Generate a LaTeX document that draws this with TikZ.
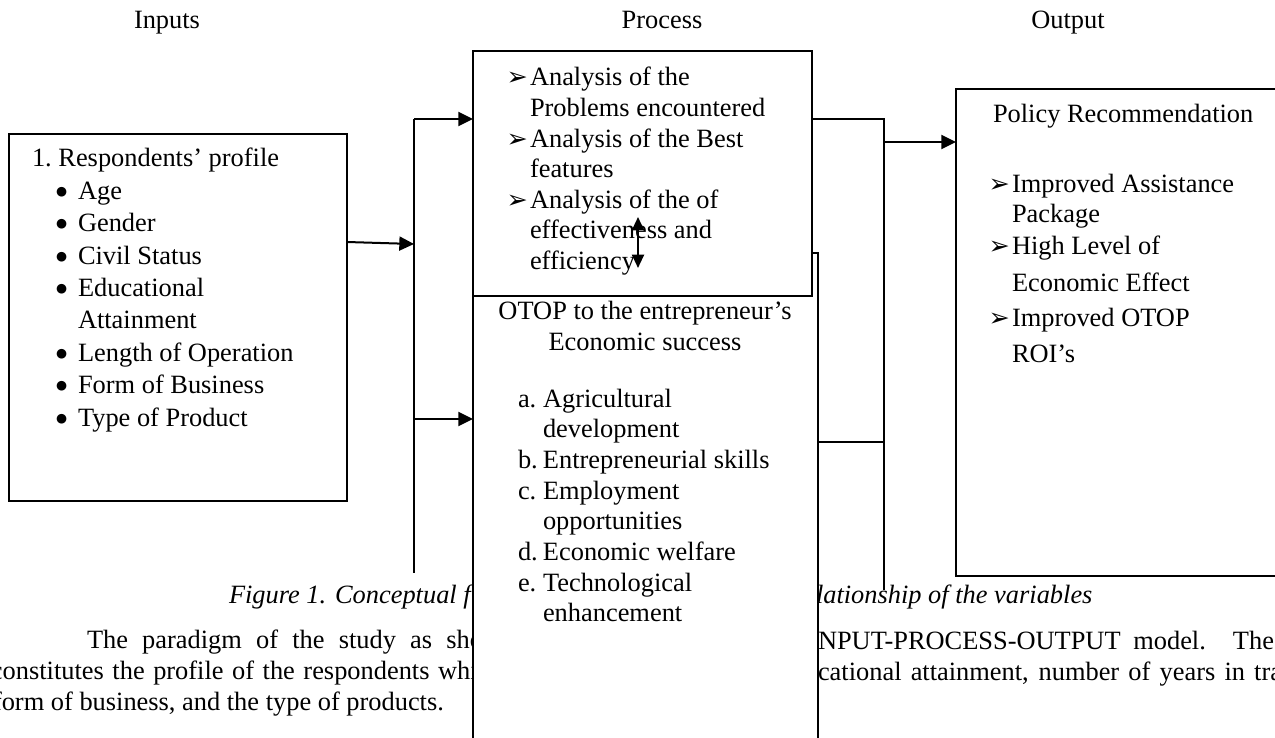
\documentclass[tikz,border=0pt]{standalone}
\usepackage{fontspec}
\setmainfont{Liberation Serif}
\newfontfamily\dvsans{DejaVu Sans}
\usetikzlibrary{arrows.meta}

% list markers
\newcommand\arrowmark{\makebox[16.5pt][l]{\hspace*{-1pt}\dvsans\fontsize{19}{19}\selectfont ➢}}
\newcommand\arrowgap{\hspace*{16.5pt}}
\newcommand\dotmark{\hspace*{18pt}\makebox[16.5pt][l]{\raisebox{3pt}{\dvsans\fontsize{9.5}{9.5}\selectfont ●}}}
\newcommand\dotgap{\hspace*{34.5pt}}
\newcommand\lettermark[1]{\makebox[18.75pt][l]{#1}}
\newcommand\lettergap{\hspace*{18.75pt}}

\tikzset{
  box/.style={draw, rectangle, line width=1.2pt, fill=white, inner sep=0pt, outer sep=0pt},
  link/.style={line width=1pt},
  arr/.style={line width=1.5pt, -{Triangle[length=11pt,width=10.5pt]}},
  dbl/.style={line width=1.5pt, {Triangle[length=10pt,width=9pt]}-{Triangle[length=10pt,width=9pt]}},
  txt/.style={inner sep=0pt, outer sep=0pt, anchor=base west},
  body/.style={txt, font=\fontsize{19.8}{23}\selectfont},
}

\begin{document}
\begin{tikzpicture}[x=0.75pt, y=-0.75pt]
\useasboundingbox (0,0) rectangle (1275,738);
\clip (0,0) rectangle (1275,738);

% column headings
\node[inner sep=0pt, anchor=base, font=\fontsize{19.8}{23}\selectfont] (hin) at (167,29) {Inputs};
\node[inner sep=0pt, anchor=base, font=\fontsize{19.8}{23}\selectfont] (hpr) at (662,29) {Process};
\node[inner sep=0pt, anchor=base, font=\fontsize{19.8}{23}\selectfont] (hout) at (1068,29) {Output};

% caption and running text of the page
\node[body, font=\itshape\fontsize{19.8}{23}\selectfont] (capL) at (229,603) {Figure 1. Conceptual f};
\node[body, font=\itshape\fontsize{19.8}{23}\selectfont] (capR) at (816,603) {lationship of the variables};
\node[body] (p1L) at (87,648) {\makebox[297pt][s]{The paradigm of the study as sho}};
\node[body] (p1R) at (818,649) {\makebox[342pt][s]{NPUT-PROCESS-OUTPUT model. The}};
\node[body] (p2L) at (-9,679) {\makebox[365pt][s]{constitutes the profile of the respondents whi}};
\node[body] (p2R) at (818,680) {\makebox[348pt][s]{cational attainment, number of years in tra}};
\node[body] (p3L) at (-7,710) {form of business, and the type of products.};

% input box
\node[box, minimum width=253.5pt, minimum height=275.25pt] (inbox) at (178,317.5) {};
\node[txt, font=\fontsize{19.8}{24.3}\selectfont] (intext) at (32,167) {%
\begin{tabular}[t]{@{}l@{}}
1.\ Respondents’ profile\\
\dotmark Age\\
\dotmark Gender\\
\dotmark Civil Status\\
\dotmark Educational\\
\dotgap Attainment\\
\dotmark Length of Operation\\
\dotmark Form of Business\\
\dotmark Type of Product
\end{tabular}};

% process boxes
\node[box, minimum width=258.75pt, minimum height=380.25pt] (plow) at (645.5,506.5) {};
\node[box, minimum width=254.25pt, minimum height=183.75pt] (ptop) at (642.5,173.5) {};

\node[txt, font=\fontsize{19.8}{22.9}\selectfont] (ptoptext) at (508,86) {%
\begin{tabular}[t]{@{}l@{}}
\arrowmark Analysis of the\\
\arrowgap Problems encountered\\
\arrowmark Analysis of the Best\\
\arrowgap features\\
\arrowmark Analysis of the of\\
\arrowgap effectiveness and\\
\arrowgap efficiency
\end{tabular}};

\node[inner sep=0pt, outer sep=0pt, anchor=base, font=\fontsize{19.8}{23.25}\selectfont] (plowhead) at (645,319) {%
\begin{tabular}[t]{@{}c@{}}
OTOP to the entrepreneur’s\\
Economic success
\end{tabular}};

\node[txt, font=\fontsize{19.8}{23}\selectfont] (plowlist) at (518,407) {%
\begin{tabular}[t]{@{}l@{}}
\lettermark{a.}Agricultural\\
\lettergap development\\
\lettermark{b.}Entrepreneurial skills\\
\lettermark{c.}Employment\\
\lettergap opportunities\\
\lettermark{d.}Economic welfare\\
\lettermark{e.}Technological\\
\lettergap enhancement
\end{tabular}};

% output box
\node[box, minimum width=250.5pt, minimum height=365.25pt] (obox) at (1123,332.5) {};
\node[txt, font=\fontsize{19.8}{22.5}\selectfont] (otitle) at (993,123) {Policy Recommendation};
\node[txt, font=\fontsize{19.8}{22.5}\selectfont] (olist) at (990,193) {%
\begin{tabular}[t]{@{}l@{}}
\arrowmark Improved Assistance\\
\arrowgap Package\\[1.5pt]
\arrowmark High Level of\\[5.25pt]
\arrowgap Economic Effect\\[3.75pt]
\arrowmark Improved OTOP\\[4.5pt]
\arrowgap ROI’s
\end{tabular}};

% junction points of the connectors
\coordinate (lbTop) at (414,119);
\coordinate (lbIn)  at (414,244);
\coordinate (lbMid) at (414,419);
\coordinate (lbBot) at (414,573);
\coordinate (rbTop) at (884,119);
\coordinate (rbOut) at (884,142);
\coordinate (rbMid) at (884,442);
\coordinate (rbBot) at (884,590);
\coordinate (dUp)   at (638,217);
\coordinate (dDown) at (638,268);

% inputs to process
\draw[arr] (inbox.east |- 0,242) -- (lbIn);
\draw[link] (lbTop) -- (lbBot);
\draw[arr] (lbTop) -- (ptop.west |- lbTop);
\draw[arr] (lbMid) -- (plow.west |- lbMid);

% process to output
\draw[link] (ptop.east |- rbTop) -- (rbTop) -- (rbBot);
\draw[link] (plow.east |- rbMid) -- (rbMid);
\draw[arr] (rbOut) -- (obox.west |- rbOut);

% link between the two process boxes
\draw[dbl] (dUp) -- (dDown);
\end{tikzpicture}
\end{document}
